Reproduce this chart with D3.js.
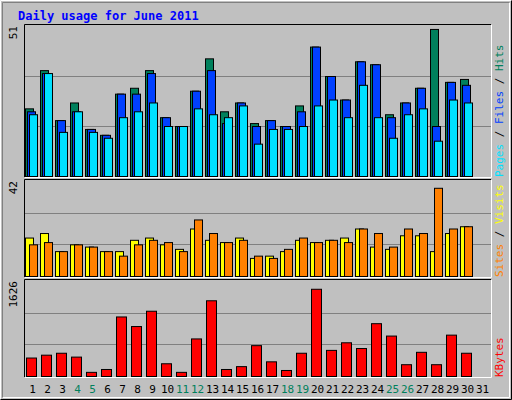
<!DOCTYPE html><html><head><meta charset="utf-8">
<script src="https://cdn.jsdelivr.net/npm/d3@7"></script>
<style>body{margin:0;background:#fff}svg text{font-family:"DejaVu Sans Mono",monospace}</style></head><body>
<script>
const days=d3.range(1,32);
const weekends=[4,5,11,12,18,19,25,26];
const hits=[23,36,19,25,16,14,28,30,36,20,17,29,40,22,25,18,19,17,24,44,34,26,39,38,21,25,30,50,32,33,0];
const files=[22,35,19,22,16,14,28,28,35,20,17,29,36,18,25,17,19,17,22,44,34,26,39,38,20,25,30,17,32,31,0];
const pages=[21,35,15,22,15,13,20,22,25,17,17,23,21,20,24,11,16,16,17,24,26,20,31,20,13,21,23,12,26,25,0];
const visits=[17,19,11,14,13,11,11,16,17,14,12,21,16,15,17,8,9,11,16,15,16,17,21,13,12,18,18,11,19,22,0];
const sites=[14,15,11,14,13,11,9,14,16,15,11,25,19,15,16,9,8,12,17,15,16,15,21,19,13,21,19,39,21,22,0];
const kbytes=[316,365,398,332,71,120,1019,855,1117,218,71,643,1296,120,169,528,251,103,398,1493,447,577,479,904,692,202,414,202,708,398,0];
const maxTop=51,maxMid=42,maxBot=1626;

const svg=d3.select("body").append("svg").attr("width",512).attr("height",400);
svg.append("rect").attr("width",512).attr("height",400).attr("fill","#C0C0C0");
svg.append("path").attr("d","M0.5,399.5V0.5H511.5").attr("stroke","#fff").attr("fill","none");
svg.append("path").attr("d","M0.5,399.5H511.5V0.5").attr("stroke","#000").attr("fill","none");
svg.append("path").attr("d","M2.5,397.5H509.5V2.5").attr("stroke","#fff").attr("fill","none");
svg.append("path").attr("d","M2.5,397.5V2.5H509.5").attr("stroke","#808080").attr("fill","none");
svg.append("text").attr("x",18).attr("y",20).attr("fill","#0000FF").attr("font-weight","bold").attr("font-size",12).text("Daily usage for June 2011");

const x=d3.scaleBand().domain(days).range([25,490]).padding(0);
const L=25,R=491;
function panel(y0,y1,max,label,specs,right){
  svg.append("rect").attr("x",L).attr("y",y0).attr("width",R-L).attr("height",y1-y0).attr("fill","#C0C0C0");
  const y=d3.scaleLinear().domain([0,max]).range([y1-1,y0+1]);
  [max/3,2*max/3].forEach(v=>svg.append("line").attr("x1",L).attr("x2",R).attr("y1",Math.round(y(v))+0.5).attr("y2",Math.round(y(v))+0.5).attr("stroke","#808080"));
  specs.forEach(s=>{
    svg.append("g").selectAll("rect").data(s.data).join("rect")
      .attr("x",(d,i)=>x(days[i])+s.off+0.5).attr("width",s.w)
      .attr("y",d=>y(d)+0.5).attr("height",d=>Math.max(0,y(0)-y(d)))
      .attr("fill",s.color).attr("stroke","#000").attr("display",d=>d>0?null:"none");
  });
  svg.append("path").attr("d",`M${L-0.5},${y1}V${y0-0.5}H${R}`).attr("stroke","#000").attr("fill","none");
  svg.append("path").attr("d",`M${L},${y1+0.5}H${R+0.5}V${y0}`).attr("stroke","#fff").attr("fill","none");
  svg.append("text").attr("transform",`translate(17,${y0+1}) rotate(-90)`).attr("text-anchor","end").attr("font-size",11).text(max);
  const t=svg.append("text").attr("transform",`translate(503,${y1}) rotate(-90)`).attr("font-size",11);
  right.forEach(([s,c])=>t.append("tspan").attr("fill",c).text(s));
}
panel(25,177,maxTop,"",[
 {data:hits,off:0,w:8,color:"#00805C"},{data:files,off:2,w:8,color:"#0040FF"},{data:pages,off:4,w:8,color:"#00E0FF"}],
 [["Pages","#00E0FF"],[" / ","#000"],["Files","#0040FF"],[" / ","#000"],["Hits","#00805C"]]);
panel(180,277,maxMid,"",[
 {data:visits,off:0,w:8,color:"#FFFF00"},{data:sites,off:4,w:8,color:"#FF8000"}],
 [["Sites","#FF8000"],[" / ","#000"],["Visits","#FFFF00"]]);
panel(280,377,maxBot,"",[{data:kbytes,off:1,w:10,color:"#FF0000"}],[["KBytes","#FF0000"]]);
svg.append("g").selectAll("text").data(days).join("text")
 .attr("x",d=>x(d)+x.bandwidth()/2).attr("y",393).attr("text-anchor","middle").attr("font-size",11)
 .attr("fill",d=>weekends.includes(d)?"#00805C":"#000").text(d=>d);
</script></body></html>
